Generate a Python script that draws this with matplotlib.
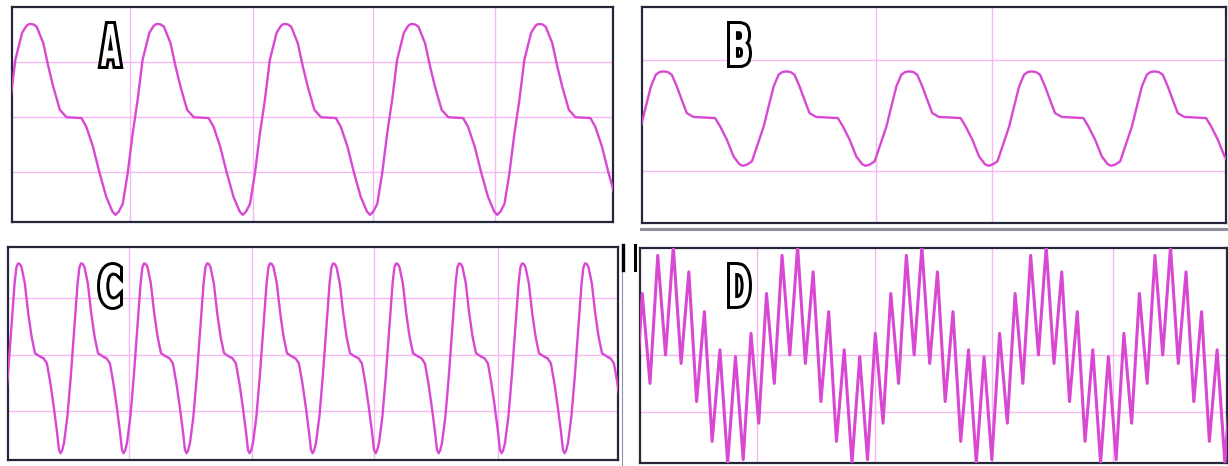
import numpy as np
import matplotlib
matplotlib.use("Agg")
import matplotlib.pyplot as plt
import matplotlib.patheffects as pe
from matplotlib.lines import Line2D
from matplotlib.patches import PathPatch
from matplotlib.textpath import TextPath
from matplotlib.font_manager import FontProperties
from matplotlib.transforms import Affine2D

# one cycle of each trace: (phase within cycle, level in grid divisions)
a_phase = [0.0, 0.022, 0.045, 0.097, 0.136, 0.175, 0.227, 0.279, 0.396, 0.435, 0.487,
           0.539, 0.591, 0.640, 0.664, 0.690, 0.721, 0.760, 0.799, 0.838, 0.877,
           0.930, 0.965, 0.985]
a_level = [1.69, 1.68, 1.64, 1.34, 0.92, 0.55, 0.13, -0.005, -0.02, -0.18, -0.54,
           -1.02, -1.45, -1.72, -1.78, -1.72, -1.58, -1.02, -0.30, 0.31, 1.04,
           1.53, 1.66, 1.69]

b_phase = [0.0, 0.035, 0.069, 0.110, 0.150, 0.191, 0.245, 0.422, 0.463, 0.518,
           0.572, 0.620, 0.648, 0.680, 0.722, 0.763, 0.818, 0.858, 0.899, 0.939, 0.970]
b_level = [0.80, 0.79, 0.74, 0.53, 0.29, 0.05, -0.02, -0.04, -0.19, -0.43,
           -0.73, -0.87, -0.90, -0.88, -0.82, -0.55, -0.19, 0.17, 0.53, 0.74, 0.79]

c_phase = [0.0, 0.027, 0.054, 0.108, 0.162, 0.216, 0.270, 0.351, 0.405, 0.459,
           0.514, 0.568, 0.622, 0.650, 0.676, 0.700, 0.730, 0.784, 0.838, 0.892,
           0.946, 0.975]
c_level = [1.62, 1.61, 1.56, 1.27, 0.74, 0.32, 0.03, -0.03, -0.06, -0.15,
           -0.50, -0.92, -1.39, -1.68, -1.74, -1.69, -1.56, -1.09, -0.38, 0.44,
           1.27, 1.55]

# D: 8 ripple peaks / troughs per slow cycle, evenly spaced
d_level = [1.90, -0.15, 1.46, -0.82, 0.76, -1.52, 0.09, -1.90,
           -0.03, -1.84, 0.38, -1.20, 1.08, -0.50, 1.75, 0.00]
d_phase = list(np.arange(len(d_level)) / len(d_level))

labels = ["A", "B", "C", "D"]

# panel setup: width of time window, first peak, period, grid positions, y range
panels = {
    "A": dict(phase=a_phase, level=a_level, width=601, peak=19, period=127.25,
              gx=[118, 241, 361, 483], gy=[-1, 0, 1], ylim=(-1.91, 2.0),
              rect=(12, 7, 613, 222), box=(98, 21, 123, 69)),
    "B": dict(phase=b_phase, level=b_level, width=584, peak=21.3, period=122.75,
              gx=[234, 350], gy=[-1, 1], ylim=(-1.93, 1.96),
              rect=(642, 7, 1226, 223), box=(727, 21, 752, 68)),
    "C": dict(phase=c_phase, level=c_level, width=610, peak=10, period=63,
              gx=[121, 244, 366, 490], gy=[-1, 0, 1], ylim=(-1.86, 1.91),
              rect=(8, 247, 618, 460), box=(97, 262, 123, 310)),
    "D": dict(phase=d_phase, level=d_level, width=587, peak=33.3, period=124.3,
              gx=[117, 235, 352, 473], gy=[-1, 0], ylim=(-1.90, 1.88),
              rect=(640, 248, 1227, 463), box=(727, 262, 752, 309)),
}

W, H = 1228, 466
fig = plt.figure(figsize=(W / 100, H / 100), dpi=100)

line_color = "#d848d2"
grid_color = "#f6b8f4"
label_prop = FontProperties(family="DejaVu Sans", weight="bold")


def add_label(letter, box):
    # condensed outlined letter squeezed into the pixel box seen in the picture
    path = TextPath((0, 0), letter, size=1, prop=label_prop)
    ext = path.get_extents()
    bx0, by0, bx1, by1 = box
    bx0, by0, bx1, by1 = bx0 + 3, by0 + 3, bx1 - 3, by1 - 3
    sx = (bx1 - bx0) / ext.width
    sy = (by1 - by0) / ext.height
    tr = (Affine2D().translate(-ext.x0, -ext.y0).scale(sx, sy)
          .translate(bx0, H - by1).scale(1 / W, 1 / H))
    patch = PathPatch(tr.transform_path(path), transform=fig.transFigure,
                      facecolor="white", edgecolor="none", zorder=10)
    patch.set_path_effects([pe.Stroke(linewidth=4.3, foreground="black"), pe.Normal()])
    fig.add_artist(patch)


for name in labels:
    p = panels[name]
    x0, y0, x1, y1 = p["rect"]
    ax = fig.add_axes([x0 / W, 1 - y1 / H, (x1 - x0) / W, (y1 - y0) / H])

    n = int(p["width"] / p["period"]) + 3
    t, v = [], []
    for k in range(-2, n):
        t.extend(p["peak"] + (k + np.array(p["phase"])) * p["period"])
        v.extend(p["level"])
    lw = 2.2 if name == "D" else 1.7
    ax.plot(t, v, color=line_color, lw=lw, zorder=3,
            solid_joinstyle="round", solid_capstyle="round")

    for gx in p["gx"]:
        ax.axvline(gx, color=grid_color, lw=1.0, zorder=1)
    for gy in p["gy"]:
        ax.axhline(gy, color=grid_color, lw=1.0, zorder=1)

    ax.set_xlim(0, p["width"])
    ax.set_ylim(*p["ylim"])
    ax.set_xticks([])
    ax.set_yticks([])
    for s in ax.spines.values():
        s.set_color("#26263a")
        s.set_linewidth(1.6)

    add_label(name, p["box"])

# scrollbar strip under B and the two cursor marks left of D
fig.add_artist(Line2D([641 / W, 1], [1 - 228.5 / H] * 2, color="#8e8e9c", lw=2.2))
fig.add_artist(Line2D([622 / W] * 2, [1 - 245 / H, 0], color="#9090a8", lw=0.8))
fig.add_artist(Line2D([623 / W] * 2, [1 - 245 / H, 1 - 270 / H], color="black", lw=2.4))
fig.add_artist(Line2D([635.5 / W] * 2, [1 - 245 / H, 1 - 270 / H], color="black", lw=2.2))

fig.savefig("out.png", dpi=100)
